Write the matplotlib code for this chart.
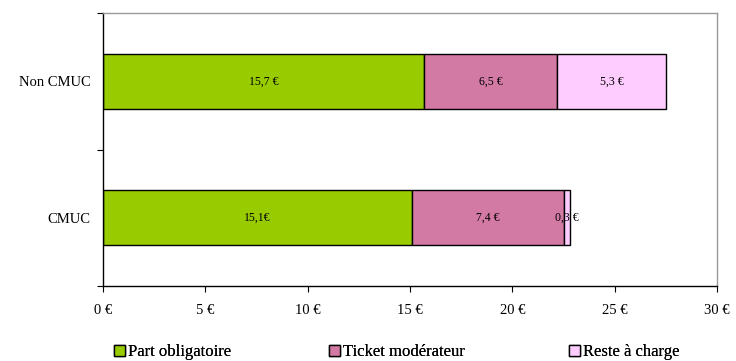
import matplotlib
matplotlib.use("Agg")
import matplotlib.pyplot as plt
import numpy as np

plt.rcParams['font.family'] = ['Liberation Serif', 'DejaVu Serif']

categories = ["CMUC", "Non CMUC"]
series_names = ["Part obligatoire", "Ticket modérateur", "Reste à charge"]
part_obligatoire = [15.1, 15.7]
ticket_moderateur = [7.4, 6.5]
reste_a_charge = [0.3, 5.3]
value_labels = [["15,1€", "7,4 €", "0,3 €"],
                ["15,7 €", "6,5 €", "5,3 €"]]
x_ticks = [0, 5, 10, 15, 20, 25, 30]
x_tick_labels = ["0 €", "5 €", "10 €", "15 €", "20 €", "25 €", "30 €"]
colors = ["#99CC00", "#D279A4", "#FFCCFF"]

fig = plt.figure(figsize=(7.36, 3.61), dpi=100)
ax = fig.add_axes([103 / 736, 1 - 286 / 361, (717 - 103) / 736, (286 - 13) / 361])

y = np.arange(len(categories))
series = [part_obligatoire, ticket_moderateur, reste_a_charge]
left = np.zeros(len(categories))
handles = []
for i, (vals, name, col) in enumerate(zip(series, series_names, colors)):
    bars = ax.barh(y, vals, left=left, height=0.4, color=col,
                   edgecolor="black", linewidth=1.0, label=name)
    handles.append(bars)
    for j, v in enumerate(vals):
        ax.text(left[j] + v / 2, y[j], value_labels[j][i], ha="center",
                va="center", fontsize=8.5)
    left = left + np.array(vals)

ax.set_xlim(0, 30)
ax.set_ylim(-0.5, 1.5)
ax.set_xticks(x_ticks)
ax.set_xticklabels(x_tick_labels, fontsize=10.5)
ax.set_yticks(y)
ax.set_yticklabels(categories, fontsize=10.5)
ax.set_yticks([-0.5, 0.5, 1.5], minor=True)
ax.tick_params(axis="y", which="major", length=0, pad=9)
ax.tick_params(axis="y", which="minor", length=4, direction="out", width=0.8)
ax.tick_params(axis="x", length=4, direction="out", width=0.8, pad=9)

for side in ["left", "bottom"]:
    ax.spines[side].set_color("black")
    ax.spines[side].set_linewidth(1.0)
for side in ["top", "right"]:
    ax.spines[side].set_color("#999999")
    ax.spines[side].set_linewidth(1.0)

# one legend entry per box, spread along the bottom
legend_x = [114, 329, 569]
for h, lx in zip(handles, legend_x):
    leg = fig.legend(handles=[h], loc="center left",
                     bbox_to_anchor=(lx / 736, 1 - 352 / 361),
                     frameon=False, fontsize=12, handlelength=0.65,
                     handleheight=0.65, handletextpad=0.2, borderpad=0,
                     borderaxespad=0)
    fig.add_artist(leg)

fig.savefig("out.png", dpi=100)
